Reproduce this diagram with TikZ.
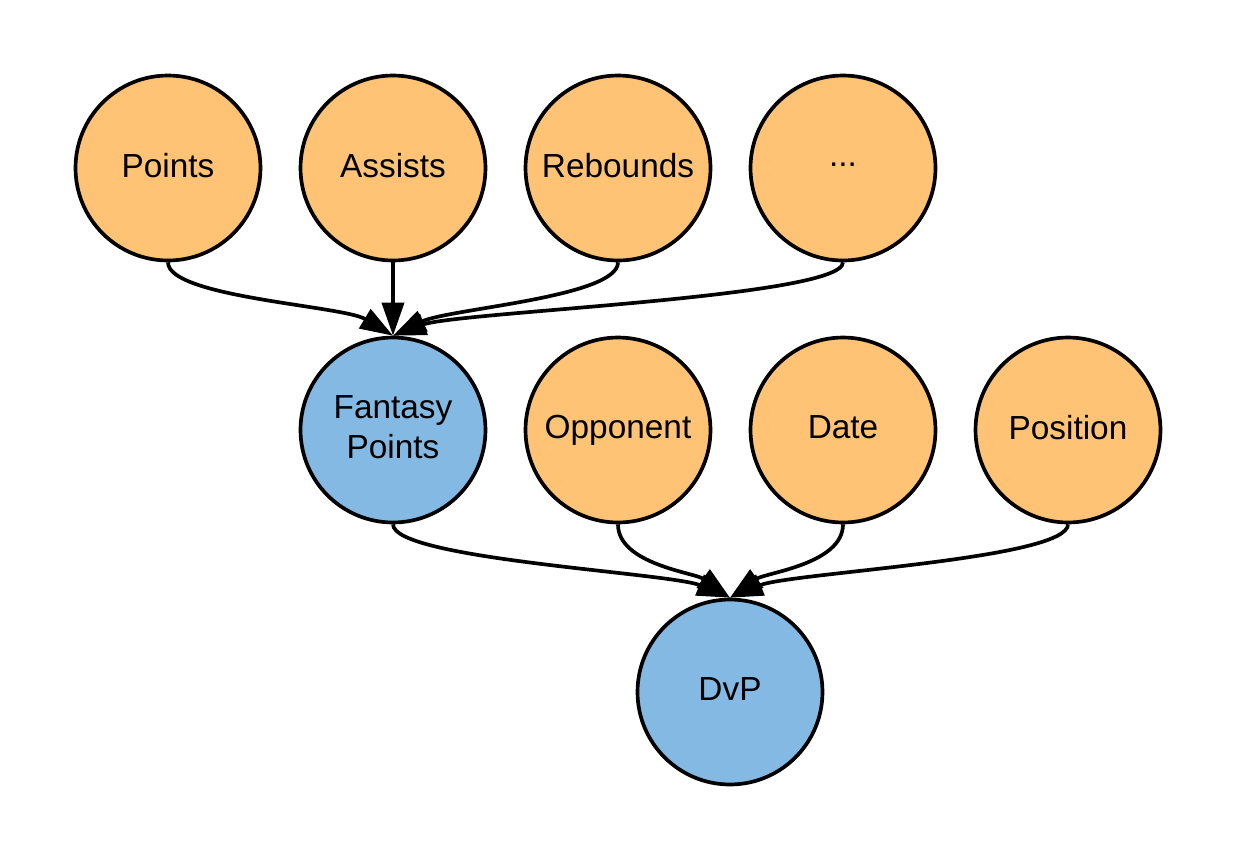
\documentclass[tikz,border=0pt]{standalone}
\usepackage{fontspec}
\setmainfont{Liberation Sans}
\usepackage{tikz}
\usetikzlibrary{arrows.meta}
\definecolor{statorange}{RGB}{255,195,118}
\definecolor{goalblue}{RGB}{131,185,227}
\tikzset{ball/.style={circle, draw=black, line width=2.1pt, minimum size=3.7cm, inner sep=0pt, align=center, text depth=0.35em, font=\fontsize{19}{22.7}\selectfont}}
\tikzset{stat/.style={ball, fill=statorange}}
\tikzset{goal/.style={ball, fill=goalblue}}
\tikzset{link/.style={black, line width=2.1pt, -{Triangle[length=0.66cm, width=0.44cm]}}}

\begin{document}
\begin{tikzpicture} [x=0.02cm, y=-0.02cm]
\useasboundingbox (0,0) rectangle (1238,863);

\node[stat] (pts) at (168,168) {Points};
\node[stat] (ast) at (393,168) {Assists};
\node[stat] (reb) at (618,168) {Rebounds};
\node[stat] (more) at (843,168) {...};

\node[goal] (fp) at (393,430) {Fantasy\\Points};
\node[stat] (opp) at (618,430) {Opponent};
\node[stat] (date) at (843,430) {Date};
\node[stat] (pos) at (1068,430) {Position};

\node[goal] (dvp) at (730,692) {DvP};

% stats into fantasy points
\draw[link] (pts.south) .. controls +(0,35) and +(-50,-30) .. (fp.north);
\draw[link] (ast.south) -- (fp.north);
\draw[link] (reb.south) .. controls +(0,35) and +(55,-27) .. (fp.north);
\draw[link] (more.south) .. controls +(0,35) and +(65,-24) .. (fp.north);

% everything into dvp
\draw[link] (fp.south) .. controls +(0,35) and +(-60,-25) .. (dvp.north);
\draw[link] (opp.south) .. controls +(0,40) and +(-35,-25) .. (dvp.north);
\draw[link] (date.south) .. controls +(0,40) and +(35,-25) .. (dvp.north);
\draw[link] (pos.south) .. controls +(0,35) and +(60,-25) .. (dvp.north);
\end{tikzpicture}
\end{document}
